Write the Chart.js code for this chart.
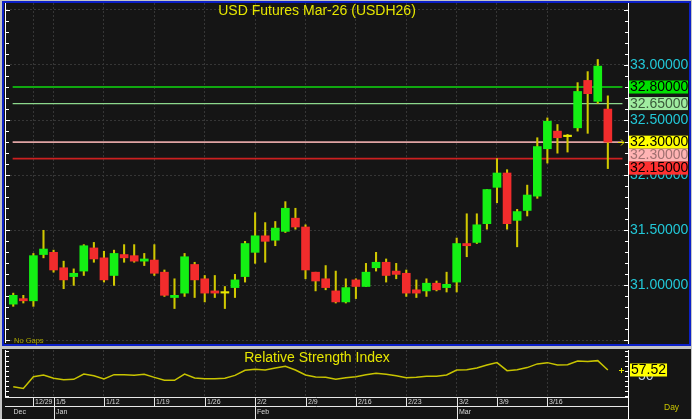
<!DOCTYPE html>
<html>
<head>
<meta charset="utf-8">
<script src="https://cdn.jsdelivr.net/npm/chart.js@4.4.1/dist/chart.umd.min.js"></script>
<style>
  html, body { margin: 0; padding: 0; }
  body { width: 692px; height: 419px; background: #c4c4c4; position: relative; overflow: hidden; }
  #pricePanel { position: absolute; left: 2px; top: 1px; width: 689px; height: 345px; box-sizing: border-box; border: 2px solid #0c20c8; background: #151515; }
  #rsiPanel { position: absolute; left: 2px; top: 349px; width: 689px; height: 70px; background: #151515; }
  #priceChart { position: absolute; left: 0; top: 0; }
  #rsiChart { position: absolute; left: 0; top: 349px; }
</style>
</head>
<body>
<div id="pricePanel"></div>
<div id="rsiPanel"></div>
<canvas id="priceChart" width="692" height="346"></canvas>
<canvas id="rsiChart" width="692" height="70"></canvas>
<script>
// Données (une bougie par séance)
const opens  = [30.83,30.88,30.86,31.28,31.30,31.16,31.08,31.13,31.34,31.25,31.09,31.28,31.27,31.22,31.23,31.12,30.89,30.93,31.19,31.06,
                30.95,30.93,30.98,31.08,31.30,31.45,31.41,31.49,31.61,31.53,31.12,31.06,30.95,30.85,31.05,30.99,31.16,31.21,31.13,31.11,
                30.96,30.95,31.02,30.98,31.03,31.38,31.39,31.56,31.89,32.02,31.59,31.68,31.81,32.24,32.40,32.35,32.43,32.86,32.67,32.60];
const highs  = [30.93,30.91,31.29,31.50,31.32,31.22,31.15,31.37,31.39,31.31,31.32,31.37,31.37,31.29,31.37,31.14,31.06,31.29,31.21,31.09,
                31.09,30.99,31.10,31.40,31.66,31.57,31.58,31.76,31.70,31.55,31.12,31.18,31.13,31.06,31.06,31.20,31.30,31.24,31.20,31.14,
                31.05,31.06,31.04,31.12,31.43,31.65,31.65,31.87,32.15,32.05,31.69,31.91,32.34,32.52,32.46,32.37,32.84,32.94,33.05,32.72];
const lows   = [30.81,30.84,30.81,31.25,31.12,30.97,31.00,31.09,31.21,31.03,31.00,31.21,31.21,31.18,31.09,30.90,30.79,30.90,30.89,30.85,
                30.89,30.79,30.89,31.03,31.20,31.21,31.36,31.48,31.51,31.06,30.95,30.96,30.84,30.84,30.88,30.99,31.13,31.03,31.06,30.90,
                30.89,30.90,30.95,30.94,30.94,31.26,31.38,31.51,31.75,31.51,31.35,31.63,31.79,32.11,32.20,32.21,32.40,32.38,32.65,32.06];
const closes = [30.91,30.86,31.27,31.33,31.14,31.05,31.11,31.36,31.24,31.05,31.29,31.25,31.22,31.24,31.11,30.91,30.91,31.26,31.05,30.93,
                30.93,30.93,31.05,31.38,31.45,31.40,31.52,31.70,31.53,31.14,31.04,30.98,30.85,30.98,30.99,31.12,31.21,31.09,31.10,30.93,
                30.93,31.02,30.96,31.01,31.38,31.36,31.55,31.87,32.02,31.56,31.67,31.82,32.26,32.49,32.34,32.35,32.76,32.74,32.99,32.30];
const rsi    = [36.6,34.5,49.2,51.3,47.1,45.4,45.8,52.5,50.4,46.2,51.7,51.7,50.8,52.1,48.3,44.6,44.6,52.5,47.5,46.7,
                46.7,47.1,50.8,57.1,58.4,57.5,60.0,62.1,57.5,51.3,48.7,48.3,45.8,47.9,49.2,51.7,53.3,52.1,50.4,47.9,
                48.3,49.6,49.6,51.3,57.5,57.9,60.0,63.8,66.7,56.7,57.9,60.5,65.1,66.7,63.8,64.2,68.8,68.0,69.2,57.52];

// Étiquettes de l'axe du temps
const weekLabels  = ['12/29','1/5','1/12','1/19','1/26','2/2','2/9','2/16','2/23','3/2','3/9','3/16'];
const weekIdx     = [2,4,9,14,19,24,29,34,39,44,48,53];
const monthLabels = ['Dec','Jan','Feb','Mar'];
const monthIdx    = [0,4,24,44];

// Axe des prix et niveaux horizontaux
const priceTicks  = [30.5,31,31.5,32,32.5,33,33.5];
const levels      = [32.80,32.65,32.30,32.15];
const rsiTicks    = [50];

const TITLE = 'USD Futures Mar-26 (USDH26)';
const RSI_TITLE = 'Relative Strength Index';

// Styles
const FONT = '"Liberation Sans", Arial, sans-serif';
const GREEN = '#14f014', RED = '#f22c2c', DOJI = '#e8e800', WICK = '#d0c800', YELLOW = '#e6e600';
const levelColors = ['#10a810', '#8cd88c', '#e0a4a4', '#cc2020'];
const levelWidths = [2, 1.3, 1.6, 1.8];
const tagStyles = [
  { bg: '#00e000', fg: '#000000' },
  { bg: '#a0eca0', fg: '#3a5a3a' },
  { bg: '#ffff00', fg: '#000000' },
  { bg: '#ffb4b4', fg: '#a07070' },
  { bg: '#ff3030', fg: '#000000' }
];

const X_MIN = -0.72, X_MAX = 61.0;
const idx = closes.map((_, i) => i);
const lastClose = closes[closes.length - 1];

function candleColor(i) {
  if (Math.abs(closes[i] - opens[i]) < 0.005) return DOJI;
  return closes[i] > opens[i] ? GREEN : RED;
}

function xAxis() {
  return {
    type: 'linear', min: X_MIN, max: X_MAX, offset: false,
    afterBuildTicks: s => { s.ticks = weekIdx.map(v => ({ value: v })); },
    afterFit: s => { s.height = 0; s.paddingLeft = 0; s.paddingRight = 0; },
    ticks: { display: false },
    grid: { color: '#363636', drawTicks: false, offset: false },
    border: { display: false, dash: [2, 2] }
  };
}

// 📈 Décor du graphique des prix
const priceDeco = {
  id: 'priceDeco',
  afterDraw(chart) {
    const { ctx, chartArea: a, scales: { y } } = chart;
    ctx.save();
    ctx.strokeStyle = '#ffffff';
    ctx.lineWidth = 1;
    ctx.beginPath();
    ctx.moveTo(a.left - 0.5, a.top);
    ctx.lineTo(a.left - 0.5, a.bottom);
    ctx.stroke();
    for (let k = 0; k <= 30; k++) {
      const py = Math.round(y.getPixelForValue(30.5 + k * 0.1)) + 0.5;
      const len = k % 5 === 0 ? 4 : 3;
      ctx.beginPath();
      ctx.moveTo(a.left, py); ctx.lineTo(a.left + len, py);
      ctx.moveTo(a.right, py); ctx.lineTo(a.right - len, py);
      ctx.stroke();
    }

    ctx.fillStyle = YELLOW;
    ctx.font = '14px ' + FONT;
    ctx.textAlign = 'center';
    ctx.textBaseline = 'middle';
    ctx.fillText(TITLE, (a.left + a.right) / 2, 11);

    ctx.fillStyle = '#a8a400';
    ctx.font = '7.5px ' + FONT;
    ctx.textAlign = 'left';
    ctx.fillText('No Gaps', 14, 341);

    // flèche du dernier cours
    const ly = Math.round(y.getPixelForValue(lastClose)) + 0.5;
    ctx.strokeStyle = YELLOW;
    ctx.beginPath();
    ctx.moveTo(a.right - 10, ly); ctx.lineTo(a.right - 4, ly);
    ctx.moveTo(a.right - 7, ly - 3); ctx.lineTo(a.right - 4, ly); ctx.lineTo(a.right - 7, ly + 3);
    ctx.stroke();

    // étiquettes de prix empilées
    const tagValues = [levels[0], levels[1], lastClose, levels[2], levels[3]];
    ctx.font = '14px ' + FONT;
    let prevBottom = -Infinity;
    tagValues.forEach((v, k) => {
      let top = y.getPixelForValue(v) - 6.5;
      if (top < prevBottom) top = prevBottom;
      ctx.fillStyle = tagStyles[k].bg;
      ctx.fillRect(a.right + 1, top, 59, 13);
      ctx.fillStyle = tagStyles[k].fg;
      ctx.fillText(v.toFixed(5), a.right + 2, top + 7);
      prevBottom = top + 13;
    });
    ctx.restore();
  }
};

new Chart(document.getElementById('priceChart'), {
  type: 'bar',
  data: {
    datasets: [
      {
        type: 'bar', order: 0, grouped: false, barThickness: 8, minBarLength: 1.5,
        data: idx.map(i => ({ x: i, y: [opens[i], closes[i]] })),
        backgroundColor: idx.map(candleColor)
      },
      {
        type: 'bar', order: 1, grouped: false, barThickness: 1.4,
        data: idx.map(i => ({ x: i, y: [lows[i], highs[i]] })),
        backgroundColor: WICK
      },
      ...levels.map((v, k) => ({
        type: 'line', order: 2,
        data: [{ x: -0.06, y: v }, { x: 60.45, y: v }],
        borderColor: levelColors[k], borderWidth: levelWidths[k], pointRadius: 0
      }))
    ]
  },
  options: {
    responsive: false,
    animation: false,
    events: [],
    layout: { padding: { left: 6, top: 3, bottom: 3, right: 0 } },
    scales: {
      x: xAxis(),
      y: {
        position: 'right', min: 30.4773, max: 33.5626,
        afterBuildTicks: s => { s.ticks = priceTicks.map(v => ({ value: v })); },
        afterFit: s => { s.width = 64; s.paddingTop = 0; s.paddingBottom = 0; },
        ticks: {
          color: '#22c8d8', font: { size: 14, family: FONT }, padding: 2,
          callback: v => (v > 30.9 && v < 33.1) ? v.toFixed(5) : ''
        },
        grid: { color: '#363636', drawTicks: false },
        border: { display: true, color: '#ffffff', width: 1, dash: [2, 2] }
      }
    },
    plugins: { legend: { display: false }, tooltip: { enabled: false } }
  },
  plugins: [priceDeco]
});

// 📉 Décor du RSI et axe des dates
const rsiDeco = {
  id: 'rsiDeco',
  afterDraw(chart) {
    const { ctx, chartArea: a, scales: { x, y } } = chart;
    ctx.save();
    ctx.strokeStyle = '#ffffff';
    ctx.lineWidth = 1;
    ctx.beginPath();
    ctx.moveTo(a.left - 0.5, a.top); ctx.lineTo(a.left - 0.5, a.bottom);
    ctx.moveTo(a.right + 0.5, a.top); ctx.lineTo(a.right + 0.5, chart.height);
    ctx.stroke();
    for (let v = 25; v <= 82; v += 6.25) {
      const py = Math.round(y.getPixelForValue(v)) + 0.5;
      ctx.beginPath();
      ctx.moveTo(a.left, py); ctx.lineTo(a.left + 3, py);
      ctx.moveTo(a.right, py); ctx.lineTo(a.right - 3, py);
      ctx.stroke();
    }

    ctx.fillStyle = YELLOW;
    ctx.font = '14px ' + FONT;
    ctx.textAlign = 'center';
    ctx.textBaseline = 'middle';
    ctx.fillText(RSI_TITLE, (a.left + a.right) / 2, 9.5);

    // lignes de dates
    const r1 = Math.round(a.bottom) + 0.5, r2 = r1 + 9, r3 = chart.height;
    ctx.strokeStyle = '#e8e8e8';
    ctx.beginPath();
    ctx.moveTo(a.left - 1, r1); ctx.lineTo(a.right, r1);
    ctx.moveTo(a.left - 1, r2); ctx.lineTo(a.right, r2);
    ctx.stroke();
    ctx.textAlign = 'left';
    ctx.fillStyle = '#d8d8d8';
    ctx.font = '7px ' + FONT;
    weekIdx.forEach((wi, k) => {
      const px = Math.round(x.getPixelForValue(wi)) + 0.5;
      ctx.beginPath(); ctx.moveTo(px, r1); ctx.lineTo(px, r2); ctx.stroke();
      ctx.fillText(weekLabels[k], px + 1.5, r1 + 5);
    });
    monthIdx.forEach((mi, k) => {
      const px = Math.round(x.getPixelForValue(mi)) + 0.5;
      if (k > 0) { ctx.beginPath(); ctx.moveTo(px, r1); ctx.lineTo(px, r3); ctx.stroke(); }
      ctx.fillText(monthLabels[k], px + (k > 0 ? 1.5 : 0), r2 + 6);
    });

    ctx.fillStyle = '#c8c400';
    ctx.font = '8.5px ' + FONT;
    ctx.fillText('Day', 664, 59);

    // marqueur et étiquette de la dernière valeur
    const last = rsi[rsi.length - 1];
    const ly = Math.round(y.getPixelForValue(last)) + 0.5;
    ctx.strokeStyle = YELLOW;
    ctx.beginPath();
    ctx.moveTo(a.right - 9, ly); ctx.lineTo(a.right - 4, ly);
    ctx.moveTo(a.right - 6.5, ly - 2.5); ctx.lineTo(a.right - 6.5, ly + 2.5);
    ctx.stroke();
    ctx.font = '14px ' + FONT;
    const txt = last.toFixed(2);
    const w = ctx.measureText(txt).width + 2;
    ctx.fillStyle = '#ffff00';
    ctx.fillRect(a.right + 2, ly - 7, w, 13);
    ctx.fillStyle = '#000000';
    ctx.fillText(txt, a.right + 3, ly);
    ctx.restore();
  }
};

new Chart(document.getElementById('rsiChart'), {
  type: 'line',
  data: {
    datasets: [{
      data: idx.map(i => ({ x: i, y: rsi[i] })),
      borderColor: '#c8c400', borderWidth: 1.5, pointRadius: 0, tension: 0
    }]
  },
  options: {
    responsive: false,
    animation: false,
    events: [],
    layout: { padding: { left: 6, top: 1, bottom: 22, right: 0 } },
    scales: {
      x: xAxis(),
      y: {
        position: 'right', min: 23.75, max: 82.5,
        afterBuildTicks: s => { s.ticks = rsiTicks.map(v => ({ value: v })); },
        afterFit: s => { s.width = 64; s.paddingTop = 0; s.paddingBottom = 0; },
        ticks: { color: '#c0d0e8', font: { size: 14, family: FONT }, padding: 2 },
        grid: { display: false },
        border: { display: false }
      }
    },
    plugins: { legend: { display: false }, tooltip: { enabled: false } }
  },
  plugins: [rsiDeco]
});
</script>
</body>
</html>
